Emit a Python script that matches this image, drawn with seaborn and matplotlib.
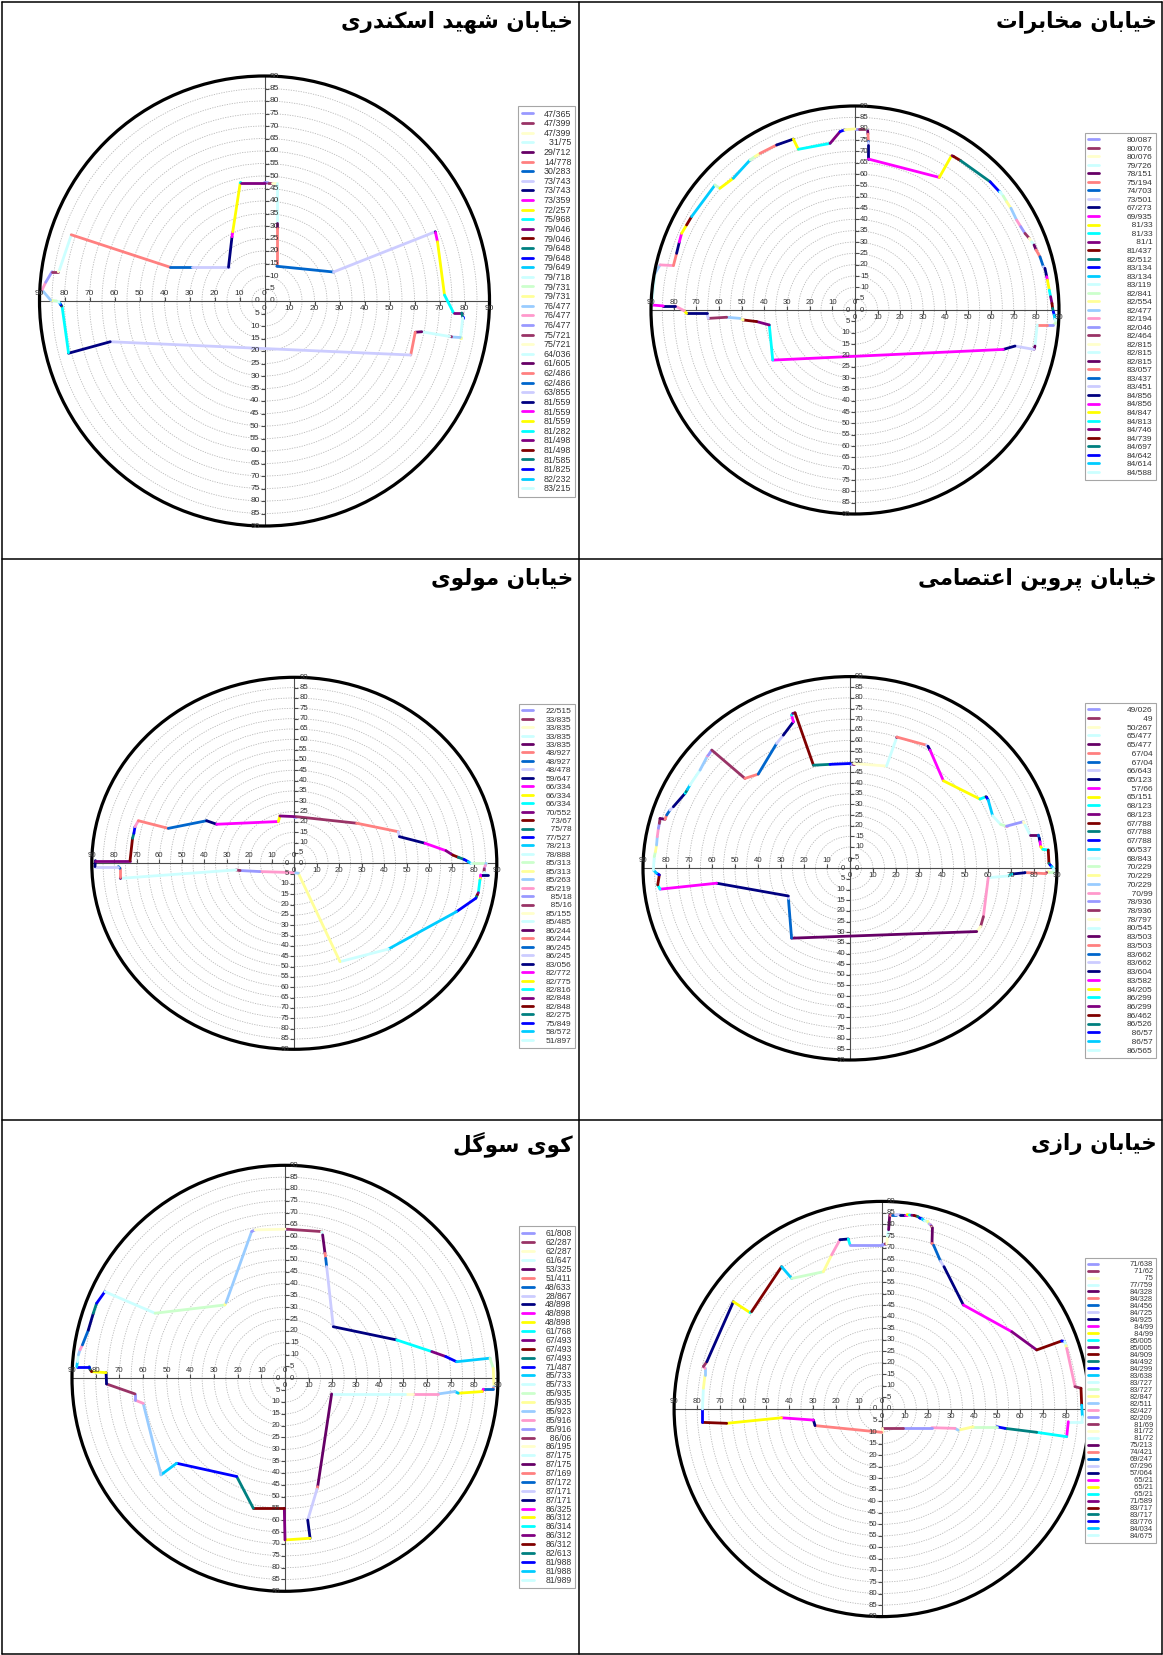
from pathlib import Path

import matplotlib
import numpy as np
import pandas as pd
import seaborn as sns
from matplotlib import markers
from matplotlib.lines import Line2D
from matplotlib.patches import Circle

matplotlib.use("Agg")
import matplotlib.pyplot as plt


OUT_FILE = Path("out.png")
FIG_W, FIG_H = 1163, 1655

# Excel 2003 series colour cycle (22 colours)
PALETTE = [
    "#9999FF", "#993366", "#FFFFCC", "#CCFFFF", "#660066", "#FF8080", "#0066CC", "#CCCCFF",
    "#000080", "#FF00FF", "#FFFF00", "#00FFFF", "#800080", "#800000", "#008080", "#0000FF",
    "#00CCFF", "#CCFFFF", "#CCFFCC", "#FFFF99", "#99CCFF", "#FF99CC",
]

# ---- data: (series number, x, y); first point is the start of the skyline ----
TL_TITLE = "خیابان شهید اسکندری"
TL_LABELS = [
    "47/365", "47/399", "47/399", "31/75", "29/712", "14/778", "30/283", "73/743", "73/743", "73/359",
    "72/257", "75/968", "79/046", "79/046", "79/648", "79/648", "79/649", "79/718", "79/731", "79/731",
    "76/477", "76/477", "76/477", "75/721", "75/721", "64/036", "61/605", "62/486", "62/486", "63/855",
    "81/559", "81/559", "81/559", "81/282", "81/498", "81/498", "81/585", "81/825", "82/232", "83/215",
]
TL_PATH = [
    (None, 0.0, 47.4),
    (0, 1.5, 47.3), (1, 3.0, 47.3), (2, 4.9, 47.3), (3, 4.9, 31.4), (4, 4.9, 29.3),
    (5, 4.9, 13.9), (6, 27.6, 11.6), (7, 68.3, 27.7), (8, 68.4, 27.4), (9, 69.2, 23.7),
    (10, 72.0, 2.4), (11, 75.6, -4.7), (12, 78.9, -4.7), (13, 78.9, -4.8), (14, 79.3, -6.5),
    (15, 79.3, -6.6), (16, 79.3, -6.8), (17, 78.4, -14.5), (18, 78.4, -14.6), (19, 78.3, -14.6),
    (20, 75.0, -14.4), (21, 74.9, -14.4), (22, 74.8, -14.3), (23, 74.2, -14.2), (24, 74.1, -14.2),
    (25, 62.9, -12.3), (26, 60.3, -12.5), (27, 58.5, -21.6), (28, 58.4, -21.6), (29, -61.7, -16.3),
    (30, -78.4, -20.9), (31, -78.4, -20.8), (32, -78.4, -20.7), (33, -81.0, -2.0), (34, -81.2, -2.0),
    (35, -81.3, -1.8), (36, -81.5, -1.5), (37, -81.8, -1.0), (38, -82.2, -0.5), (39, -83.2, 0.0),
    (40, -85.0, 0.2), (41, -85.5, 0.3), (42, -89.0, 4.4), (43, -87.5, 7.5), (44, -85.0, 11.7),
    (45, -82.5, 11.7), (46, -82.0, 12.5), (47, -77.3, 26.4), (48, -77.3, 26.5), (49, -37.7, 13.5),
    (50, -29.0, 13.5), (51, -14.4, 13.5), (52, -13.0, 25.7), (53, -12.7, 27.7), (54, -9.7, 47.3),
    (55, -9.5, 47.4), (56, 0.0, 47.4),
]

TR_TITLE = "خیابان مخابرات"
TR_LABELS = [
    "80/087", "80/076", "80/076", "79/726", "78/151", "75/194", "74/703", "73/501", "67/273", "69/935",
    "81/33", "81/33", "81/1", "81/437", "82/512", "83/134", "83/134", "83/119", "82/841", "82/554",
    "82/477", "82/194", "82/046", "82/464", "82/815", "82/815", "82/815", "83/057", "83/437", "83/451",
    "84/856", "84/856", "84/847", "84/813", "84/746", "84/739", "84/697", "84/642", "84/614", "84/588",
]
TR_PATH = [
    (None, 0.0, 79.9),
    (0, 1.9, 79.9), (1, 5.1, 79.9), (2, 5.3, 79.7), (3, 5.6, 79.1), (4, 5.7, 77.6),
    (5, 5.9, 74.6), (6, 5.9, 74.0), (7, 5.9, 72.6), (8, 5.9, 66.6), (9, 37.2, 58.5),
    (10, 42.6, 68.1), (11, 42.8, 68.1), (12, 43.4, 67.8), (13, 46.6, 65.9), (14, 59.6, 56.6),
    (15, 63.7, 52.2), (16, 64.0, 52.1), (17, 65.4, 50.3), (18, 66.9, 47.8), (19, 68.8, 44.9),
    (20, 71.3, 39.7), (21, 73.1, 36.8), (22, 75.0, 33.8), (23, 76.9, 31.6), (24, 77.9, 30.1),
    (25, 79.0, 28.7), (26, 79.9, 26.5), (27, 81.6, 23.5), (28, 83.1, 19.1), (29, 83.8, 18.4),
    (30, 84.6, 14.7), (31, 84.9, 13.2), (32, 85.7, 8.8), (33, 86.3, 5.9), (34, 86.9, 2.9),
    (35, 87.2, 0.7), (36, 87.5, -0.7), (37, 87.9, -2.2), (38, 88.2, -4.1), (39, 88.7, -5.6),
    (40, 87.5, -6.6), (44, 84.6, -6.6), (49, 80.4, -6.6), (69, 79.4, -15.9), (70, 79.0, -17.4),
    (73, 70.6, -15.9), (74, 65.4, -17.4), (75, -36.3, -22.1), (77, -37.8, -6.6), (78, -43.4, -5.1),
    (79, -49.3, -4.4), (85, -50.7, -3.7), (86, -56.6, -3.2), (89, -64.7, -3.7), (95, -65.4, -1.5),
    (96, -74.3, -1.5), (98, -75.4, -0.3), (109, -79.4, 1.8), (118, -84.6, 1.8), (119, -89.7, 2.2),
    (127, -88.2, 16.2), (130, -86.0, 19.9), (131, -80.1, 19.6), (137, -78.7, 25.0), (140, -77.5, 30.0),
    (141, -76.5, 33.8), (142, -74.3, 37.5), (145, -72.1, 41.2), (148, -61.8, 55.1), (150, -59.6, 53.7),
    (164, -53.7, 58.1), (170, -46.3, 66.2), (172, -44.0, 67.8), (173, -41.9, 69.1), (181, -34.6, 72.8),
    (184, -27.2, 75.4), (186, -25.0, 70.9), (187, -11.0, 73.5), (188, -6.6, 78.7), (191, -4.5, 79.5),
    (195, 0.0, 79.9),
]

ML_TITLE = "خیابان مولوی"
ML_LABELS = [
    "22/515", "33/835", "33/835", "33/835", "33/835", "48/927", "48/927", "48/478", "59/647", "66/334",
    "66/334", "66/334", "70/552", "73/67", "75/78", "77/527", "78/213", "78/888", "85/313", "85/313",
    "85/263", "85/219", "85/18", "85/16", "85/155", "85/485", "86/244", "86/244", "86/245", "86/245",
    "83/056", "82/772", "82/775", "82/816", "82/848", "82/848", "82/275", "75/849", "58/572", "51/897",
]
ML_PATH = [
    (None, 0.0, 22.6),
    (0, 0.6, 22.6), (1, 27.7, 19.4), (5, 46.2, 15.3), (7, 46.7, 12.9), (8, 58.1, 9.7),
    (9, 67.4, 6.1), (12, 70.4, 4.0), (13, 72.9, 2.9), (14, 75.4, 1.9), (15, 77.3, 0.8),
    (16, 78.4, 0.0), (17, 79.3, 0.0), (18, 85.2, 0.0), (20, 84.9, -1.1), (21, 84.4, -2.4),
    (22, 84.4, -2.7), (23, 84.3, -4.2), (24, 84.3, -4.5), (25, 85.9, -5.6), (30, 82.8, -5.6),
    (31, 82.7, -7.3), (32, 82.5, -8.1), (33, 81.8, -14.2), (34, 81.3, -15.3), (35, 81.0, -16.1),
    (36, 80.7, -16.9), (37, 72.1, -23.4), (38, 41.8, -41.5), (39, 20.3, -47.6), (41, 1.8, -4.8),
    (42, -0.4, -4.5), (43, -15.3, -4.0), (44, -24.1, -3.5), (45, -25.9, -3.2), (47, -77.5, -7.3),
    (48, -77.5, -6.5), (49, -77.5, -2.4), (50, -78.2, -1.6), (51, -88.6, -1.6), (52, -88.4, 1.3),
    (56, -73.0, 1.3), (57, -71.9, 12.1), (58, -71.3, 14.5), (59, -70.8, 17.7), (65, -69.3, 20.6),
    (71, -56.0, 16.9), (72, -39.0, 20.6), (74, -34.5, 18.9), (75, -7.1, 20.2), (76, -6.4, 22.9),
    (78, 0.0, 22.6),
]

MR_TITLE = "خیابان پروین اعتصامی"
MR_LABELS = [
    "49/026", "49", "50/267", "65/477", "65/477", "67/04", "67/04", "66/643", "65/123", "57/66",
    "65/151", "68/123", "68/123", "67/788", "67/788", "67/788", "66/537", "68/843", "70/229", "70/229",
    "70/229", "70/99", "78/936", "78/936", "78/797", "80/545", "83/503", "83/503", "83/662", "83/662",
    "83/604", "83/582", "84/205", "86/299", "86/299", "86/462", "86/526", "86/57", "86/57", "86/565",
]
MR_PATH = [
    (None, 0.0, 49.2),
    (0, 1.4, 49.2), (1, 1.7, 49.2), (2, 15.9, 48.0), (3, 20.3, 61.4), (4, 20.4, 61.6),
    (5, 33.3, 57.8), (7, 33.9, 57.3), (8, 34.8, 55.5), (9, 40.6, 41.1), (10, 56.5, 32.5),
    (11, 59.1, 33.6), (13, 59.4, 33.4), (15, 60.1, 32.0), (16, 62.0, 24.7), (17, 65.5, 20.6),
    (18, 67.8, 19.8), (21, 68.1, 19.8), (22, 75.4, 21.9), (24, 76.1, 20.3), (25, 78.3, 15.6),
    (26, 81.9, 15.6), (28, 82.3, 14.1), (30, 82.6, 12.5), (31, 82.9, 10.2), (32, 83.8, 8.9),
    (33, 86.2, 8.6), (35, 86.5, 2.3), (36, 87.0, 1.6), (37, 87.7, 0.8), (38, 88.4, 0.0),
    (39, 88.4, -1.6), (40, 86.2, -1.6), (41, 85.5, -2.0), (45, 85.0, -2.5), (49, 76.1, -2.0),
    (50, 76.0, -2.1), (52, 70.3, -2.7), (55, 68.8, -3.6), (61, 60.1, -4.4), (65, 58.0, -22.7),
    (67, 56.8, -27.3), (68, 55.1, -29.7), (70, -25.4, -32.8), (72, -26.8, -14.1), (73, -26.8, -13.0),
    (74, -58.0, -7.0), (75, -82.6, -9.8), (77, -83.6, -7.8), (79, -82.9, -3.1), (81, -84.1, -2.3),
    (82, -85.5, -0.8), (83, -85.1, 5.5), (84, -84.6, 7.8), (85, -84.1, 10.9), (86, -83.8, 14.8),
    (87, -83.3, 18.8), (88, -82.9, 21.1), (89, -82.6, 23.4), (92, -80.4, 23.0), (93, -79.7, 25.0),
    (94, -78.3, 27.3), (95, -76.8, 28.9), (96, -71.7, 35.2), (99, -71.3, 35.9), (102, -70.7, 37.0),
    (104, -69.6, 39.1), (105, -65.2, 46.1), (108, -62.0, 52.7), (109, -61.6, 53.1), (110, -60.1, 55.5),
    (111, -45.7, 42.2), (115, -39.9, 44.2), (116, -31.9, 58.6), (117, -29.0, 62.5), (118, -24.6, 68.8),
    (119, -25.4, 71.9), (121, -24.9, 72.7), (122, -23.9, 73.0), (123, -15.9, 48.4), (124, -8.7, 48.8),
    (125, 0.0, 49.2),
]

BL_TITLE = "کوی سوگل"
BL_LABELS = [
    "61/808", "62/287", "62/287", "61/647", "53/325", "51/411", "48/633", "28/867", "48/898", "48/898",
    "48/898", "61/768", "67/493", "67/493", "67/493", "71/487", "85/733", "85/733", "85/935", "85/935",
    "85/923", "85/916", "85/916", "86/06", "86/195", "87/175", "87/175", "87/169", "87/172", "87/171",
    "87/171", "86/325", "86/312", "86/314", "86/312", "86/312", "82/613", "81/988", "81/988", "81/989",
]
BL_PATH = [
    (None, 0.0, 63.0),
    (0, 0.7, 63.0), (1, 15.5, 62.0), (2, 15.6, 61.8), (3, 15.9, 60.6), (4, 16.9, 52.8),
    (5, 17.2, 50.7), (6, 17.6, 47.2), (7, 20.4, 21.8), (8, 47.2, 16.2), (11, 62.0, 11.3),
    (12, 67.9, 9.2), (15, 72.5, 7.0), (16, 86.6, 8.5), (18, 88.0, 4.2), (19, 88.3, -3.5),
    (20, 88.0, -4.2), (27, 87.8, -4.6), (28, 83.8, -4.6), (31, 83.4, -5.6), (32, 73.2, -6.3),
    (38, 71.8, -5.6), (42, 64.8, -6.6), (43, 54.2, -6.6), (46, 50.7, -6.6), (47, 19.7, -6.6),
    (48, 13.8, -45.8), (49, 13.5, -46.9), (51, 9.6, -59.9), (52, 10.6, -67.6), (54, 0.0, -68.3),
    (56, -0.3, -54.9), (57, -13.4, -54.9), (58, -20.4, -41.5), (59, -45.8, -35.9), (60, -52.4, -40.8),
    (64, -59.9, -10.6), (65, -63.4, -9.2), (66, -63.4, -6.6), (67, -75.4, -2.4), (74, -75.6, 2.4),
    (76, -81.7, 2.8), (79, -82.4, 3.8), (80, -82.7, 4.9), (81, -88.0, 4.9), (82, -87.7, 7.0),
    (83, -87.3, 9.9), (86, -86.6, 12.0), (87, -85.6, 14.1), (94, -83.1, 20.4), (96, -81.0, 27.5),
    (102, -79.6, 31.7), (103, -76.1, 36.6), (105, -54.9, 27.5), (106, -25.4, 31.0), (107, -24.9, 32.0),
    (108, -14.1, 62.0), (110, -12.7, 62.7), (112, 0.0, 63.0),
]

BR_TITLE = "خیابان رازی"
BR_LABELS = [
    "71/638", "71/62", "75", "77/759", "84/328", "84/328", "84/456", "84/725", "84/925", "84/99",
    "84/99", "85/005", "85/005", "84/909", "84/492", "84/299", "83/638", "83/727", "83/727", "82/847",
    "82/511", "82/427", "82/209", "81/69", "81/72", "81/72", "75/213", "74/421", "69/247", "67/296",
    "57/064", "65/21", "65/21", "65/21", "71/589", "83/717", "83/717", "83/776", "84/034", "84/675",
]
BR_PATH = [
    (None, 0.0, 71.6),
    (0, 1.5, 71.6), (1, 2.2, 71.5), (2, 2.5, 75.0), (3, 3.0, 77.7), (4, 3.5, 84.2),
    (5, 4.5, 84.2), (6, 6.0, 84.2), (7, 8.0, 84.3), (8, 10.0, 84.3), (9, 11.0, 84.3),
    (10, 12.0, 84.1), (11, 13.0, 84.0), (12, 14.0, 83.9), (13, 15.5, 83.5), (14, 16.5, 82.8),
    (15, 17.5, 82.4), (16, 18.5, 81.6), (17, 19.5, 81.4), (18, 20.0, 81.3), (19, 20.5, 80.3),
    (20, 21.0, 80.0), (21, 21.3, 79.7), (22, 21.5, 79.3), (23, 21.7, 78.8), (24, 22.0, 78.6),
    (26, 21.8, 71.8), (27, 22.5, 71.0), (28, 25.5, 64.1), (29, 27.0, 61.7), (30, 35.4, 45.1),
    (31, 56.4, 33.5), (34, 67.2, 25.6), (35, 78.0, 29.5), (37, 79.3, 29.3), (39, 79.8, 27.5),
    (41, 80.2, 26.3), (43, 83.8, 9.7), (45, 86.4, 9.0), (57, 86.7, 1.7), (60, 87.0, -3.3),
    (61, 86.8, -5.5), (69, 80.9, -5.5), (75, 80.2, -12.0), (77, 67.2, -10.1), (80, 53.5, -8.4),
    (81, 49.9, -7.7), (84, 39.7, -7.7), (85, 33.2, -9.2), (86, 31.8, -8.4), (87, 21.7, -8.1),
    (88, 9.4, -8.1), (89, 0.0, -8.1), (90, 0.0, -10.1), (93, -28.9, -7.2), (96, -29.6, -4.8),
    (97, -43.4, -3.8), (98, -67.2, -6.2), (101, -77.7, -5.8), (103, -77.7, 0.0), (105, -77.3, 9.0),
    (107, -76.6, 14.7), (108, -76.6, 17.6), (109, -77.3, 18.4), (111, -75.8, 20.5), (118, -64.3, 46.5),
    (120, -57.1, 41.8), (121, -56.4, 42.2), (123, -43.4, 61.7), (126, -39.0, 56.6), (128, -25.3, 59.5),
    (129, -21.7, 66.8), (131, -18.1, 73.4), (140, -14.5, 73.7), (143, -13.7, 71.1), (154, 0.0, 71.1),
]

# ---- layout (pixels of the 1163x1655 page) ----
# circle: centre x, centre y, x radius, y radius; legend box: left, top, width, height
PANELS = [
    dict(title=TL_TITLE, labels=TL_LABELS, path=TL_PATH, circle=(264.5, 301, 225, 225),
         legend=(518, 106, 57, 391), leg_size=6.4, title_xy=(573, 22), tick_size=6.0),
    dict(title=TR_TITLE, labels=TR_LABELS, path=TR_PATH, circle=(855, 310, 204, 204),
         legend=(1085, 133, 71, 347), leg_size=6.0, title_xy=(1157, 22), tick_size=5.6),
    dict(title=ML_TITLE, labels=ML_LABELS, path=ML_PATH, circle=(294.3, 863.3, 202.5, 186),
         legend=(519, 704, 56, 344), leg_size=6.0, title_xy=(573, 579), tick_size=5.6),
    dict(title=MR_TITLE, labels=MR_LABELS, path=MR_PATH, circle=(850, 868.3, 207, 191.7),
         legend=(1085, 703, 71, 355), leg_size=6.0, title_xy=(1157, 579), tick_size=5.6),
    dict(title=BL_TITLE, labels=BL_LABELS, path=BL_PATH, circle=(285, 1378.3, 213, 213),
         legend=(519, 1226, 56, 362), leg_size=6.2, title_xy=(573, 1144), tick_size=5.6),
    dict(title=BR_TITLE, labels=BR_LABELS, path=BR_PATH, circle=(881.7, 1409, 207.6, 207.6),
         legend=(1085, 1258, 71, 285), leg_size=5.4, title_xy=(1157, 1144), tick_size=5.6),
]

NUM_FONT = ["Liberation Sans", "DejaVu Sans"]
AXIS_COLOR = "#4D4D4D"
LABEL_COLOR = "#333333"

# Persian letters -> (isolated, final, initial, medial) presentation forms
FORMS = {
    "ا": ("\uFE8D", "\uFE8E", None, None),
    "ب": ("\uFE8F", "\uFE90", "\uFE91", "\uFE92"),
    "پ": ("\uFB56", "\uFB57", "\uFB58", "\uFB59"),
    "ت": ("\uFE95", "\uFE96", "\uFE97", "\uFE98"),
    "خ": ("\uFEA5", "\uFEA6", "\uFEA7", "\uFEA8"),
    "د": ("\uFEA9", "\uFEAA", None, None),
    "ر": ("\uFEAD", "\uFEAE", None, None),
    "ز": ("\uFEAF", "\uFEB0", None, None),
    "س": ("\uFEB1", "\uFEB2", "\uFEB3", "\uFEB4"),
    "ش": ("\uFEB5", "\uFEB6", "\uFEB7", "\uFEB8"),
    "ص": ("\uFEB9", "\uFEBA", "\uFEBB", "\uFEBC"),
    "ع": ("\uFEC9", "\uFECA", "\uFECB", "\uFECC"),
    "ک": ("\uFB8E", "\uFB8F", "\uFB90", "\uFB91"),
    "گ": ("\uFB92", "\uFB93", "\uFB94", "\uFB95"),
    "ل": ("\uFEDD", "\uFEDE", "\uFEDF", "\uFEE0"),
    "م": ("\uFEE1", "\uFEE2", "\uFEE3", "\uFEE4"),
    "ن": ("\uFEE5", "\uFEE6", "\uFEE7", "\uFEE8"),
    "ه": ("\uFEE9", "\uFEEA", "\uFEEB", "\uFEEC"),
    "و": ("\uFEED", "\uFEEE", None, None),
    "ی": ("\uFBFC", "\uFBFD", "\uFBFE", "\uFBFF"),
}


def shape_rtl(text: str) -> str:
    out = []
    for i, ch in enumerate(text):
        if ch not in FORMS:
            out.append(ch)
            continue
        iso, fin, ini, med = FORMS[ch]
        prev = text[i - 1] if i > 0 else ""
        nxt = text[i + 1] if i + 1 < len(text) else ""
        join_prev = prev in FORMS and FORMS[prev][2] is not None
        join_next = ini is not None and nxt in FORMS
        if join_prev and join_next:
            out.append(med)
        elif join_prev:
            out.append(fin)
        elif join_next:
            out.append(ini)
        else:
            out.append(iso)
    return "".join(reversed(out))


def pad_label(label: str) -> str:
    digits = sum(ch.isdigit() for ch in label)
    slashes = label.count("/")
    return "\u2007" * max(0, 5 - digits) + "\u2008" * max(0, 1 - slashes) + label


def path_frame(path) -> pd.DataFrame:
    rows = []
    for (_, x0, y0), (sid, x1, y1) in zip(path[:-1], path[1:]):
        rows.append((sid, x0, y0))
        rows.append((sid, x1, y1))
    return pd.DataFrame(rows, columns=["series", "x", "y"])


def make_legend(fig, ax, spec, spacing, textpad):
    labels = spec["labels"]
    handles = [Line2D([], [], color=PALETTE[i % len(PALETTE)], lw=2.0) for i in range(len(labels))]
    lx, ly, _, _ = spec["legend"]
    leg = ax.legend(
        handles, [pad_label(s) for s in labels],
        loc="upper left", bbox_to_anchor=(lx / FIG_W, 1 - ly / FIG_H), bbox_transform=fig.transFigure,
        frameon=True, fancybox=False, edgecolor="#A6A6A6", framealpha=1, borderaxespad=0,
        borderpad=0.4, handlelength=1.3, handletextpad=textpad, labelspacing=spacing,
        prop={"family": NUM_FONT, "size": spec["leg_size"]},
    )
    leg.get_frame().set_linewidth(0.8)
    for t in leg.get_texts():
        t.set_color("#333333")
    return leg


def fit_legend(fig, ax, spec):
    # size the legend box to the measured box of the picture
    renderer = fig.canvas.get_renderer()
    _, _, target_w, target_h = spec["legend"]
    fs_px = spec["leg_size"] * fig.dpi / 72
    leg = make_legend(fig, ax, spec, 0.0, 0.0)
    box = leg.get_window_extent(renderer)
    n_gaps = len(spec["labels"]) - 1
    spacing = (target_h - box.height) / (n_gaps * fs_px)
    textpad = max(0.2, (target_w - box.width) / fs_px)
    leg.remove()
    return make_legend(fig, ax, spec, spacing, textpad)


def draw_panel(fig, spec) -> None:
    cx, cy, rx, ry = spec["circle"]
    ax = fig.add_axes([(cx - rx) / FIG_W, 1 - (cy + ry) / FIG_H, 2 * rx / FIG_W, 2 * ry / FIG_H])
    ax.set_axis_off()

    for r in range(5, 90, 5):
        ax.add_patch(Circle((0, 0), r, fill=False, ec="#B8B8B8", lw=0.6, ls=(0, (1.5, 1.5)), zorder=1))
    ax.plot([-90, 90], [0, 0], color=AXIS_COLOR, lw=0.8, zorder=2, clip_on=False)
    ax.plot([0, 0], [-90, 90], color=AXIS_COLOR, lw=0.8, zorder=2, clip_on=False)

    ys = np.arange(0, 91, 5)
    xs = np.arange(0, 91, 10)
    tick_kw = dict(ls="none", color=AXIS_COLOR, ms=3, mew=0.8, zorder=2, clip_on=False)
    ax.plot(np.zeros_like(ys), ys, marker=markers.TICKRIGHT, **tick_kw)
    ax.plot(np.zeros_like(ys), -ys, marker=markers.TICKLEFT, **tick_kw)
    ax.plot(-xs, np.zeros_like(xs), marker=markers.TICKUP, **tick_kw)
    ax.plot(xs, np.zeros_like(xs), marker=markers.TICKDOWN, **tick_kw)

    txt_kw = dict(textcoords="offset points", fontsize=spec["tick_size"], color=LABEL_COLOR,
                  family=NUM_FONT, zorder=5, annotation_clip=False)
    for v in ys:
        ax.annotate(str(v), (0, v), xytext=(3.5, 0), ha="left", va="center", **txt_kw)
        ax.annotate(str(v), (0, -v), xytext=(-3.5, 0), ha="right", va="center", **txt_kw)
    for v in xs:
        ax.annotate(str(v), (-v, 0), xytext=(0, 3), ha="center", va="bottom", **txt_kw)
        ax.annotate(str(v), (v, 0), xytext=(0, -3), ha="center", va="top", **txt_kw)

    df = path_frame(spec["path"])
    palette = {s: PALETTE[s % len(PALETTE)] for s in df["series"].unique()}
    sns.lineplot(data=df, x="x", y="y", hue="series", palette=palette, sort=False,
                 estimator=None, legend=False, linewidth=2.0, ax=ax, zorder=3)

    ax.add_patch(Circle((0, 0), 90, fill=False, ec="black", lw=2.3, zorder=4, clip_on=False))
    ax.set_xlim(-90, 90)
    ax.set_ylim(-90, 90)
    ax.set_axis_off()

    fit_legend(fig, ax, spec)

    tx, ty = spec["title_xy"]
    fig.text(tx / FIG_W, 1 - ty / FIG_H, shape_rtl(spec["title"]), ha="right", va="center",
             fontsize=15.5, fontweight="bold", family=["DejaVu Sans"], color="black")


def draw_borders(fig) -> None:
    segs = [
        ((1.5, 1.5), (1.5, FIG_H - 1.5)),
        ((FIG_W - 1.5, FIG_W - 1.5), (1.5, FIG_H - 1.5)),
        ((1.5, FIG_W - 1.5), (1.5, 1.5)),
        ((1.5, FIG_W - 1.5), (FIG_H - 1.5, FIG_H - 1.5)),
        ((578.5, 578.5), (1.5, FIG_H - 1.5)),
        ((1.5, FIG_W - 1.5), (559, 559)),
        ((1.5, FIG_W - 1.5), (1120, 1120)),
    ]
    for (x0, x1), (y0, y1) in segs:
        fig.add_artist(Line2D([x0 / FIG_W, x1 / FIG_W], [1 - y0 / FIG_H, 1 - y1 / FIG_H],
                              transform=fig.transFigure, color="black", lw=1.1))


def main() -> None:
    sns.set_style("white")
    plt.rcParams["font.family"] = NUM_FONT
    fig = plt.figure(figsize=(FIG_W / 100, FIG_H / 100), dpi=100)
    fig.patch.set_facecolor("white")
    for spec in PANELS:
        draw_panel(fig, spec)
    draw_borders(fig)
    fig.savefig(OUT_FILE, dpi=100, facecolor="white")
    plt.close(fig)


if __name__ == "__main__":
    main()
